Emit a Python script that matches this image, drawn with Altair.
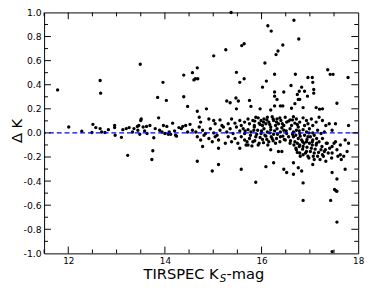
import altair as alt
import pandas as pd

# ---- data ----
mag = [
    # left / upper outliers
    11.78, 12.66, 12.67, 13.49, 13.85, 13.96, 14.03, 14.39, 14.39, 14.47, 14.57, 14.60, 14.63, 14.67, 14.68, 14.67, 14.86, 15.01,
    15.26, 15.37, 15.59, 15.64, 16.13, 16.20, 16.30, 16.34, 16.44, 16.67, 16.77,
    # upper band 0.19-0.59
    15.48, 15.55, 15.64, 16.07, 16.10, 16.02, 16.27, 16.70, 16.61, 16.83, 16.89, 16.78, 16.96, 17.05, 17.06, 17.08, 17.08,
    17.37, 17.42, 17.48, 17.79, 16.46, 16.27, 16.27, 16.32, 16.27, 16.39, 16.44, 16.74, 16.79, 16.69, 16.76, 16.95,
    15.28, 15.35, 15.47, 15.52, 15.75, 15.78, 15.97, 16.19, 16.62, 16.86, 17.13, 17.20, 17.26, 17.56, 15.48,
    # lower outliers
    16.86, 17.43, 17.46, 17.51, 17.54, 17.56, 17.56,
    # bright end near zero
    12.01, 12.28, 12.49, 12.51, 12.57, 12.66, 12.69, 12.76, 12.83, 12.96, 12.96, 12.97, 13.10, 13.13, 13.20, 13.23, 13.26,
    13.33, 13.36, 13.43, 13.44, 13.46, 13.50, 13.51, 13.48, 13.55, 13.58, 13.62, 13.63, 13.69, 13.73, 13.75, 13.77, 13.80,
    13.87, 13.89, 13.94, 13.97, 14.00, 14.04, 14.07, 14.09, 14.12, 14.16, 14.20, 14.22, 14.24, 14.29, 14.34, 14.37, 14.43,
    14.47, 14.52, 14.57,
    # faint end row 1
    14.71, 14.74, 14.91, 15.01, 15.04, 15.14, 15.18, 15.31, 15.38, 15.45, 15.55, 15.58, 15.65, 15.72, 15.75, 15.82, 15.85,
    15.88, 15.95, 15.99, 16.02, 16.05, 16.09, 16.12, 16.15, 16.19, 16.22, 16.25, 16.29, 16.32, 16.35, 16.40, 16.46, 16.49,
    16.52, 16.59, 16.62, 16.66, 16.69, 16.72, 16.76, 16.79, 16.86, 16.89, 16.93, 16.96, 17.03, 17.06, 17.13, 17.19, 17.26,
    17.33, 17.40, 17.53, 17.80,
    # row 2
    14.64, 14.71, 14.78, 14.84, 14.94, 15.01, 15.08, 15.14, 15.21, 15.28, 15.35, 15.41, 15.48, 15.55, 15.62, 15.65, 15.72,
    15.78, 15.85, 15.92, 15.99, 16.05, 16.12, 16.19, 16.25, 16.32, 16.39, 16.46, 16.52, 16.59, 16.66, 16.72, 16.79, 16.86,
    16.93, 16.99, 17.06, 17.16, 17.23, 17.30, 17.46,
    # row 3
    14.67, 14.74, 14.81, 14.91, 14.98, 15.04, 15.11, 15.25, 15.31, 15.38, 15.45, 15.51, 15.58, 15.65, 15.68, 15.75, 15.82,
    15.88, 15.95, 16.02, 16.09, 16.15, 16.22, 16.29, 16.39, 16.49, 16.59, 16.66, 16.69, 16.76, 16.79, 16.83, 16.86, 16.93,
    16.96, 16.99, 17.03, 17.06, 17.13, 17.19, 17.26, 17.36, 17.46, 17.53, 17.63, 17.73, 17.80,
    # row 4
    14.78, 15.11, 15.55, 15.72, 16.19, 16.35, 16.42, 16.72, 16.79, 16.86, 16.93, 16.96, 17.09, 17.16, 17.23, 17.26, 17.30,
    17.46, 17.56, 17.63, 17.70,
    # lower scatter
    14.67, 14.98, 15.11, 15.58, 15.88, 16.09, 16.25, 16.46, 16.52, 16.66, 16.66, 16.76, 16.83, 16.86, 17.06, 17.09, 17.33,
    17.46, 17.56, 17.73,
    # dense core
    15.66, 15.70, 15.77, 15.80, 15.84, 15.86, 15.90, 15.93, 15.97, 16.00, 16.04, 16.07, 16.11, 16.13, 16.17, 16.20, 16.24,
    16.27, 16.31, 16.33, 16.38, 16.42, 16.44, 16.47, 16.51, 16.56, 16.60, 16.64, 16.71, 16.74, 16.78, 16.80, 16.85, 16.89,
    16.94, 16.98, 17.01, 17.05, 17.09, 17.14,
    15.86, 15.93, 15.97, 16.04, 16.11, 16.17, 16.24, 16.31, 16.38, 16.43, 16.56, 16.64, 16.74,
    16.67, 16.71, 16.74, 16.78, 16.80, 16.85, 16.88, 16.91, 16.94, 16.98, 17.01, 17.05, 17.07, 17.11, 17.14, 17.18, 17.21,
    17.25, 17.28, 17.32, 17.34, 17.38, 17.41, 17.45, 17.50, 17.58, 17.65, 17.77,
]
delta_k = [
    0.357, 0.435, 0.330, 0.570, 0.295, 0.420, 0.270, 0.480, 0.300, 0.220, 0.500, 0.440, 0.450, 0.540, 0.450, 0.180, 0.200, 0.640,
    0.690, 1.000, 0.725, 0.740, 0.890, 0.845, 0.650, 0.680, 0.730, 0.935, 0.780,
    0.503, 0.420, 0.450, 0.580, 0.430, 0.380, 0.487, 0.487, 0.394, 0.380, 0.346, 0.346, 0.460, 0.460, 0.420, 0.360, 0.330,
    0.524, 0.486, 0.486, 0.460, 0.340, 0.340, 0.305, 0.278, 0.224, 0.224, 0.224, 0.319, 0.278, 0.243, 0.278, 0.305,
    0.265, 0.250, 0.290, 0.265, 0.270, 0.220, 0.200, 0.190, 0.205, 0.210, 0.210, 0.197, 0.200, 0.246, 0.200,
    -0.560, -0.560, -0.985, -0.470, -0.480, -0.485, -0.740,
    0.049, 0.014, 0.003, 0.071, 0.044, 0.036, 0.008, 0.003, 0.027, 0.062, 0.044, -0.019, -0.037, 0.027, 0.036, -0.186, 0.044,
    0.008, 0.036, 0.054, 0.022, 0.062, 0.103, 0.116, -0.011, 0.049, 0.017, 0.054, -0.005, 0.062, -0.221, -0.148, -0.040, 0.036,
    0.125, 0.022, 0.008, 0.062, -0.005, 0.054, -0.011, 0.008, -0.011, 0.081, 0.017, -0.019, -0.027, 0.044, 0.036, 0.054, 0.062,
    0.008, 0.071, 0.022,
    0.130, 0.090, 0.116, 0.103, 0.076, 0.108, 0.062, 0.076, 0.116, 0.081, 0.103, 0.062, 0.090, 0.116, 0.076, 0.103, 0.062,
    0.130, 0.081, 0.103, 0.062, 0.116, 0.076, 0.130, 0.090, 0.049, 0.135, 0.103, 0.062, 0.116, 0.076, 0.103, 0.062, 0.130,
    0.090, 0.108, 0.062, 0.135, 0.081, 0.116, 0.049, 0.090, 0.125, 0.062, 0.103, 0.076, 0.116, 0.062, 0.090, 0.130, 0.103,
    0.062, 0.076, 0.076, 0.062,
    0.008, 0.049, 0.022, -0.005, 0.035, 0.000, -0.019, 0.022, 0.049, 0.008, 0.035, -0.005, 0.049, 0.017, 0.035, -0.005, 0.027,
    0.008, 0.049, 0.022, -0.005, 0.035, 0.008, 0.027, -0.011, 0.035, 0.008, 0.022, -0.005, 0.035, 0.008, 0.022, -0.005, 0.027,
    0.008, 0.035, 0.000, 0.022, -0.005, 0.008, 0.022,
    -0.032, -0.059, -0.019, -0.046, -0.073, -0.032, -0.059, -0.086, -0.032, -0.073, -0.046, -0.086, -0.032, -0.059, -0.100, -0.046, -0.073,
    -0.032, -0.086, -0.054, -0.027, -0.073, -0.046, -0.086, -0.032, -0.059, -0.086, -0.032, -0.073, -0.046, -0.100, -0.059, -0.113, -0.073,
    -0.032, -0.086, -0.127, -0.059, -0.100, -0.073, -0.046, -0.086, -0.113, -0.073, -0.100, -0.059, -0.086,
    -0.113, -0.127, -0.127, -0.100, -0.140, -0.154, -0.154, -0.140, -0.167, -0.181, -0.154, -0.194, -0.167, -0.194, -0.140, -0.181, -0.154,
    -0.167, -0.140, -0.181, -0.194,
    -0.235, -0.316, -0.262, -0.302, -0.410, -0.280, -0.248, -0.302, -0.329, -0.248, -0.343, -0.289, -0.316, -0.415, -0.262, -0.221, -0.235,
    -0.329, -0.383, -0.302,
    0.017, -0.073, -0.019, -0.108, 0.022, -0.065, -0.011, -0.100, -0.038, 0.017, -0.081, -0.019, -0.054, -0.100, 0.000, -0.032, -0.065,
    0.017, -0.046, -0.011, -0.073, 0.043, -0.027, -0.054, 0.017, -0.032, -0.065, -0.011, -0.019, -0.086, 0.017, -0.027, -0.073, -0.019,
    -0.054, 0.000, -0.032, -0.073, -0.019, -0.046,
    0.098, 0.125, 0.070, 0.090, 0.108, 0.070, 0.116, 0.090, 0.125, 0.076, 0.098, 0.108, 0.070,
    -0.100, -0.127, -0.162, -0.113, -0.194, -0.135, -0.086, -0.167, -0.119, -0.208, -0.154, -0.100, -0.194, -0.135, -0.086, -0.162, -0.221,
    -0.113, -0.194, -0.140, -0.086, -0.167, -0.127, -0.208, -0.086, -0.194, -0.221, -0.154,
]

zero_level = [0.0]
x_label_ticks = [12, 14, 16, 18]
x_minor_ticks = [11.5, 12.5, 13, 13.5, 14.5, 15, 15.5, 16.5, 17, 17.5]
x_major_ticks = [12, 14, 16]
y_label_ticks = [-1.0, -0.8, -0.6, -0.4, -0.2, 0.0, 0.2, 0.4, 0.6, 0.8, 1.0]
y_major_ticks = [-0.8, -0.6, -0.4, -0.2, 0.0, 0.2, 0.4, 0.6, 0.8]
y_minor_ticks = [-0.9, -0.7, -0.5, -0.3, -0.1, 0.1, 0.3, 0.5, 0.7, 0.9]
x_title_parts = ["TIRSPEC K", "S", "-mag"]
y_title = "\u0394 K"

W, H = 322, 247
FONT = "DejaVu Sans"

xs = alt.Scale(domain=[11.5, 18], nice=False, zero=False)
ys = alt.Scale(domain=[-1, 1], nice=False, zero=False)

xa = alt.Axis(
    values=x_label_ticks, format="d", ticks=False, domain=False, grid=False,
    labelPadding=3, labelFlush=False, labelFont=FONT, labelFontSize=9,
    labelColor="black", title=None)
ya = alt.Axis(
    values=y_label_ticks, ticks=False, domain=False, grid=False,
    labelExpr="datum.value < 0 ? '-' + format(-datum.value, '.1f') : format(datum.value, '.1f')",
    labelPadding=3, labelFlush=False, labelFont=FONT, labelFontSize=9.5,
    labelColor="black", title=y_title, titleFont=FONT, titleFontSize=15,
    titleFontWeight="normal", titleColor="black", titleAngle=270,
    titleX=-23, titleY=121, titleAlign="center", titleBaseline="alphabetic")

df = pd.DataFrame({"mag": mag, "dk": delta_k})

points = alt.Chart(df).mark_circle(size=12, color="black", opacity=1).encode(
    x=alt.X("mag:Q", scale=xs, axis=xa, title=None),
    y=alt.Y("dk:Q", scale=ys, axis=ya, title=y_title),
)

zero = alt.Chart(pd.DataFrame({"dk": zero_level})).mark_rule(
    color="#0000ff", strokeDash=[5, 3], strokeWidth=1.3
).encode(y=alt.Y("dk:Q", scale=ys, axis=ya, title=y_title))


def xticks(vals, length):
    d = pd.DataFrame({"mag": vals})
    bottom = alt.Chart(d).mark_rule(color="black", strokeWidth=1).encode(
        x=alt.X("mag:Q", scale=xs, axis=xa, title=None), y=alt.value(H), y2=alt.value(H - length))
    top = alt.Chart(d).mark_rule(color="black", strokeWidth=1).encode(
        x=alt.X("mag:Q", scale=xs, axis=xa, title=None), y=alt.value(0), y2=alt.value(length))
    return [bottom, top]


def yticks(vals, length):
    d = pd.DataFrame({"dk": vals})
    left = alt.Chart(d).mark_rule(color="black", strokeWidth=1).encode(
        y=alt.Y("dk:Q", scale=ys, axis=ya, title=y_title), x=alt.value(0), x2=alt.value(length))
    right = alt.Chart(d).mark_rule(color="black", strokeWidth=1).encode(
        y=alt.Y("dk:Q", scale=ys, axis=ya, title=y_title), x=alt.value(W), x2=alt.value(W - length))
    return [left, right]


tick_layers = xticks(x_major_ticks, 7) + xticks(x_minor_ticks, 4) + yticks(y_major_ticks, 7) + yticks(y_minor_ticks, 4)

t1 = alt.Chart(pd.DataFrame({"t": [x_title_parts[0]]})).mark_text(
    align="right", baseline="alphabetic", font=FONT, fontSize=15, color="black"
).encode(x=alt.value(179), y=alt.value(273), text="t:N")
t2 = alt.Chart(pd.DataFrame({"t": [x_title_parts[1]]})).mark_text(
    align="left", baseline="alphabetic", font=FONT, fontSize=10.5, fontStyle="italic", color="black"
).encode(x=alt.value(180), y=alt.value(276), text="t:N")
t3 = alt.Chart(pd.DataFrame({"t": [x_title_parts[2]]})).mark_text(
    align="left", baseline="alphabetic", font=FONT, fontSize=15, color="black"
).encode(x=alt.value(187), y=alt.value(273), text="t:N")

chart = alt.layer(points, zero, *tick_layers, t1, t2, t3).properties(
    width=W, height=H,
    autosize=alt.AutoSizeParams(type="none"),
    padding={"left": 37, "top": 1, "right": 8, "bottom": 35},
).configure_view(stroke="black", strokeWidth=1)

chart.save("out.html", embed_options={"renderer": "svg", "actions": False})
